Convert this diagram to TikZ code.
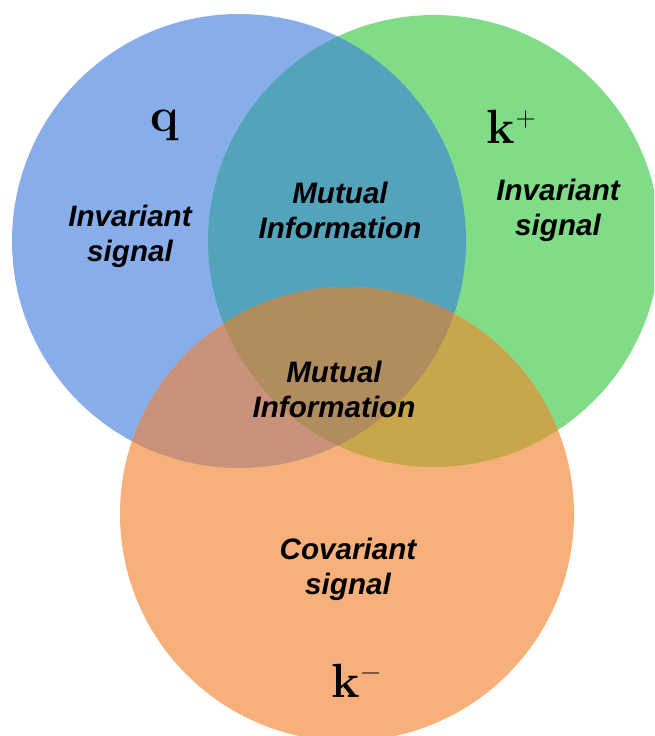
\documentclass[tikz,border=0pt]{standalone}
\usepackage{amsmath,amssymb}
\usepackage{fontspec}
\setsansfont{Liberation Sans}
\usepackage{xcolor}
\usetikzlibrary{positioning}

\newcommand{\supsign}[1]{\kern1pt\raisebox{17pt}{\fontsize{28}{28}\selectfont\mdseries#1}}

\definecolor{qblue}{HTML}{87AEEA}
\definecolor{kpgreen}{HTML}{80DC86}
\definecolor{kmorange}{HTML}{F7B079}
\definecolor{qkpmix}{HTML}{52A3BB}
\definecolor{qkmmix}{HTML}{C8937A}
\definecolor{kpkmmix}{HTML}{C8A64B}
\definecolor{allmix}{HTML}{B08C5E}

\begin{document}
\begin{tikzpicture}[
    x=1pt, y=-1pt,
    label/.style={font=\fontsize{29.6}{35}\selectfont\sffamily\bfseries\itshape,
                  align=center, text=black, inner sep=0pt},
    sym/.style={font=\fontsize{48}{50}\selectfont\bfseries, anchor=base, inner sep=0pt},
]

% =============================================
% canvas
% =============================================
\clip (0,0) rectangle (654,736);
\fill[white] (0,0) rectangle (654,736);

\coordinate (qc)  at (239,241);
\coordinate (kpc) at (434,241);
\coordinate (kmc) at (347,514);

% =============================================
% circles
% =============================================
\fill[qblue]    (qc)  circle[radius=227pt];
\fill[kpgreen]  (kpc) circle[radius=226pt];
\fill[kmorange] (kmc) circle[radius=227pt];

% pairwise overlaps
\begin{scope}
    \clip (qc) circle[radius=227pt];
    \fill[qkpmix] (kpc) circle[radius=226pt];
    \fill[qkmmix] (kmc) circle[radius=227pt];
\end{scope}
\begin{scope}
    \clip (kpc) circle[radius=226pt];
    \fill[kpkmmix] (kmc) circle[radius=227pt];
\end{scope}

% centre overlap
\begin{scope}
    \clip (qc) circle[radius=227pt];
    \clip (kpc) circle[radius=226pt];
    \fill[allmix] (kmc) circle[radius=227pt];
\end{scope}

% =============================================
% labels
% =============================================
\node[sym] (q)  at (165,131) {q};
\node[sym] (kp) at (511,143) {k\supsign{+}};
\node[sym] (km) at (356,697) {k\supsign{\textminus}};

\node[label] (qsig)   at (130,236) {Invariant\\signal};
\node[label] (qkpmi)  at (340,210) {Mutual\\Information};
\node[label] (kpsig)  at (558,210) {Invariant\\signal};
\node[label] (allmi)  at (334,389) {Mutual\\Information};
\node[label] (kmsig)  at (348,569) {Covariant\\signal};

\end{tikzpicture}
\end{document}
